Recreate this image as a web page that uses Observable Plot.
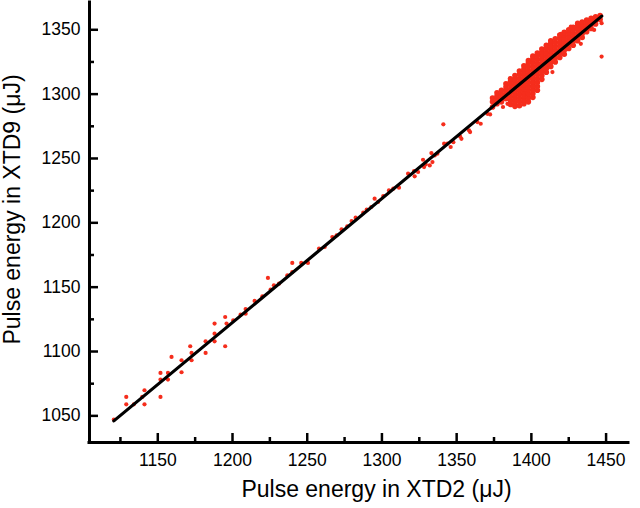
<!DOCTYPE html>
<html><head><meta charset="utf-8">
<script src="https://cdn.jsdelivr.net/npm/d3@7"></script>
<script src="https://cdn.jsdelivr.net/npm/@observablehq/plot@0.6"></script>
<style>body{margin:0;background:#fff}</style>
</head><body><div id="chart"></div>
<script>
const xMajor = [1150,1200,1250,1300,1350,1400,1450];
const xMinor = [1125,1175,1225,1275,1325,1375,1425];
const yMajor = [1050,1100,1150,1200,1250,1300,1350];
const yMinor = [1075,1125,1175,1225,1275,1325];
const xTitle = "Pulse energy in XTD2 (μJ)";
const yTitle = "Pulse energy in XTD9 (μJ)";

// sparse shots along the diagonal
const sparseX = [1120.6,1128.9,1128.9,1134.0,1139.6,1141.1,1141.1,1151.8,1151.8,1151.8,1156.8,1156.8,1159.2,1165.9,1165.9,1171.7,1172.6,1172.6,1182.0,1182.0,1188.0,1188.0,1188.0,1195.1,1196.0,1195.1,1200.5,1205.4,1208.8,1208.8,1214.8,1220.0,1225.5,1227.7,1231.1,1223.7,
  1236.7,1240.0,1240.0,1246.0,1250.5,1257.9,1261.7,1266.8,1269.7,1273.0,1276.8,1279.7,1282.4,1287.5,1289.8,1292.9,1295.1,1297.4,1300.9,1304.7,1307.6,1311.4,1317.5,1321.5,1321.9,1324.2,1327.5,1328.2,1329.3,1332.0,1333.8,1333.1,1335.3,1337.1,1341.1,1341.6,1343.8,1346.0,1347.8,1352.3,1353.2,1358.3,1359.0,1363.9,1366.1,1370.6,1372.4,
  1414.1,1433.1,1447.0,1447.0,1442.0,1419.7,1426.4,1381.0,1384.0];
const sparseY = [1047.1,1064.7,1059.0,1059.0,1064.7,1069.9,1059.0,1083.4,1078.2,1064.7,1083.4,1078.2,1095.8,1093.2,1083.9,1104.1,1098.9,1093.2,1107.9,1098.9,1121.7,1113.9,1107.9,1126.8,1121.7,1104.1,1124.2,1128.6,1133.0,1129.4,1139.3,1142.9,1148.1,1151.4,1152.7,1157.2,
  1159.2,1168.8,1161.8,1168.8,1168.8,1180.0,1181.2,1189.0,1190.3,1195.0,1197.3,1201.4,1204.0,1207.9,1210.2,1212.3,1218.8,1216.2,1220.8,1225.2,1226.5,1227.3,1238.2,1240.2,1236.1,1239.5,1249.0,1243.3,1245.4,1244.6,1247.2,1254.2,1252.4,1253.7,1276.5,1261.5,1261.5,1258.9,1262.7,1267.1,1265.3,1271.8,1270.5,1278.3,1277.0,1284.7,1284.2,
  1317.1,1339.1,1329.2,1355.1,1349.9,1346.8,1352.5,1290.0,1292.5];

// dense cloud near 1400 uJ, read column by column
const clusterColX = [1374,1377,1380,1383,1386,1389,1392,1395,1398,1401,1404,1407,1410,1413,1416,1419,1422,1425,1428,1431,1434,1437,1440,1443,1446];
const clusterColY = [
  [1290,1294,1297],
  [1292.5,1295.5,1298.5,1301],
  [1294,1297,1300,1303],
  [1296.5,1299.5,1302.5,1305.5,1308],
  [1292,1295,1298,1301,1304,1307,1310,1312],
  [1290.5,1293.5,1296.5,1299.5,1302.5,1305.5,1308.5,1311.5,1314.5],
  [1291,1294,1297,1300,1303,1306,1309,1312,1315,1318],
  [1292.5,1295.5,1298.5,1301.5,1304.5,1307.5,1310.5,1313.5,1316.5,1319.5,1322],
  [1294,1297,1300,1303,1306,1309,1312,1315,1318,1321,1324,1326],
  [1297.5,1300.5,1303.5,1306.5,1309.5,1312.5,1315.5,1318.5,1321.5,1324.5,1327.5,1329.5],
  [1303,1306,1309,1312,1315,1318,1321,1324,1327,1330,1332],
  [1311.5,1314.5,1317.5,1320.5,1323.5,1326.5,1329.5,1332.5,1335],
  [1317,1320,1323,1326,1329,1332,1335,1338],
  [1321.5,1324.5,1327.5,1330.5,1333.5,1336.5,1339.5,1341.5],
  [1325,1328,1331,1334,1337,1340,1343],
  [1328.5,1331.5,1334.5,1337.5,1340.5,1343.5,1346],
  [1331,1334,1337,1340,1343,1346,1348],
  [1335.5,1338.5,1341.5,1344.5,1347.5,1350],
  [1338,1341,1344,1347,1350,1352],
  [1341.5,1344.5,1347.5,1350.5,1353.5,1355],
  [1344,1347,1350,1353,1356],
  [1348.5,1351.5,1354.5,1357.5],
  [1351,1354,1357,1359],
  [1354.5,1357.5,1360],
  [1358,1361]
];

// linear fit
const fitX = [1120.6, 1447.1];
const fitY = [1046.1, 1360.6];

const sparse = sparseX.map((x, i) => ({x, y: sparseY[i]}));
const cluster = [];
clusterColX.forEach((x, i) => clusterColY[i].forEach(y => cluster.push({x, y})));
const fit = fitX.map((x, i) => ({x, y: fitY[i]}));

const xDom = [1104.3, 1465];
const yDom = [1029.3, 1371.2];
const font = "'Liberation Sans', Arial, Helvetica, sans-serif";
const red = "#f52d1c";

const plot = Plot.plot({
  width: 640, height: 508,
  marginLeft: 89, marginRight: 12, marginTop: 2, marginBottom: 66,
  x: {domain: xDom, label: null},
  y: {domain: yDom, label: null},
  style: {fontFamily: font, fontSize: "17.5px", color: "#000", background: "#fff"},
  marks: [
    Plot.dot(cluster, {x: "x", y: "y", r: 2.8, fill: red, stroke: null}),
    Plot.dot(sparse, {x: "x", y: "y", r: 2.1, fill: red, stroke: null}),
    Plot.line(fit, {x: "x", y: "y", stroke: "#000", strokeWidth: 3.2}),
    Plot.axisX(xMajor, {tickSize: -9, tickFormat: () => "", strokeWidth: 2.5, label: null}),
    Plot.axisX(xMinor, {tickSize: -5, tickFormat: () => "", strokeWidth: 2.5, label: null}),
    Plot.axisX(xMajor, {tickSize: 0, tickPadding: 11, tickFormat: d => String(d), fontSize: 17.5, label: null}),
    Plot.axisY(yMajor, {tickSize: -9, tickFormat: () => "", strokeWidth: 2.5, label: null}),
    Plot.axisY(yMinor, {tickSize: -5, tickFormat: () => "", strokeWidth: 2.5, label: null}),
    Plot.axisY(yMajor, {tickSize: 0, tickPadding: 9, tickFormat: d => String(d), fontSize: 17.5, label: null}),
    Plot.ruleX([xDom[0]], {stroke: "#000", strokeWidth: 3, strokeLinecap: "square"}),
    Plot.ruleY([yDom[0]], {stroke: "#000", strokeWidth: 3, strokeLinecap: "square"}),
    Plot.text([xTitle], {frameAnchor: "bottom", dx: 17.5, dy: 47.4, fontSize: 23, textAnchor: "middle", lineAnchor: "middle", fill: "#000"}),
    Plot.text([yTitle], {frameAnchor: "left", dx: -77, dy: -13, rotate: -90, fontSize: 23, textAnchor: "middle", lineAnchor: "middle", fill: "#000"})
  ]
});
document.getElementById("chart").appendChild(plot);
</script>
</body></html>
